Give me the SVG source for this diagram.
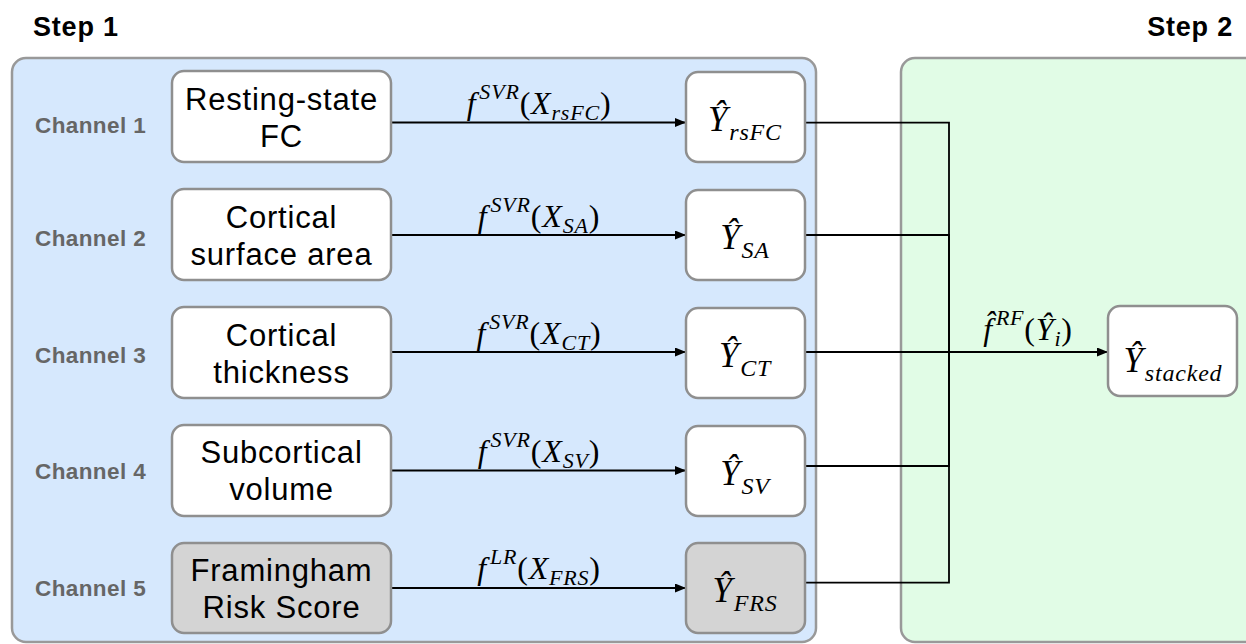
<svg xmlns="http://www.w3.org/2000/svg" width="1246" height="644" viewBox="0 0 1246 644">
<defs>
<style>
.panel{stroke:#999;stroke-width:2.5}
.p1{fill:#d6e8fd}
.p2{fill:#e1fce6}
.box{fill:#fff;stroke:#8f8f8f;stroke-width:2.5}
.gray{fill:#d4d4d4}
.lbl{font-family:"Liberation Sans",Arial,sans-serif;font-size:31px;letter-spacing:0.8px;text-anchor:middle;fill:#000}
.ch{font-family:"Liberation Sans",Arial,sans-serif;font-size:22.5px;font-weight:bold;letter-spacing:0.4px;fill:#666}
.step{font-family:"Liberation Sans",Arial,sans-serif;font-size:27px;font-weight:bold;letter-spacing:0.8px;fill:#000}
.m{font-family:"Liberation Serif","Times New Roman",serif;font-style:italic;font-size:32px;letter-spacing:0.8px;text-anchor:middle;fill:#000}
.mo{font-size:35px}
.sm{font-size:22px}
.so{font-size:24px}
.up{font-style:normal}
.wire{stroke:#000;stroke-width:1.8;fill:none}
</style>
<marker id="arr" markerUnits="userSpaceOnUse" markerWidth="11" markerHeight="9" refX="11" refY="4.5" orient="auto">
<path d="M0,0 L11,4.5 L0,9 z" fill="#000"/>
</marker>
</defs>

<text class="step" x="33" y="36">Step 1</text>
<text class="step" x="1233" y="35.5" text-anchor="end">Step 2</text>

<rect id="panel-step1" class="panel p1" x="12" y="58" width="804" height="584" rx="14"/>
<rect id="panel-step2" class="panel p2" x="901" y="58" width="400" height="584" rx="14"/>

<g id="channel-labels">
<text class="ch" x="35" y="133">Channel 1</text>
<text class="ch" x="35" y="246">Channel 2</text>
<text class="ch" x="35" y="363">Channel 3</text>
<text class="ch" x="35" y="479">Channel 4</text>
<text class="ch" x="35" y="596">Channel 5</text>
</g>

<g id="connectors">
<line class="wire" x1="391" y1="122.5" x2="686" y2="122.5" marker-end="url(#arr)"/>
<line class="wire" x1="391" y1="235" x2="686" y2="235" marker-end="url(#arr)"/>
<line class="wire" x1="391" y1="352" x2="686" y2="352" marker-end="url(#arr)"/>
<line class="wire" x1="391" y1="470.5" x2="686" y2="470.5" marker-end="url(#arr)"/>
<line class="wire" x1="391" y1="588" x2="686" y2="588" marker-end="url(#arr)"/>
<path class="wire" d="M805,122.7 H949 V352"/>
<path class="wire" d="M805,235 H949 V352"/>
<path class="wire" d="M805,466 H949 V352"/>
<path class="wire" d="M805,582.7 H949 V352"/>
<line class="wire" x1="805" y1="352" x2="1108" y2="352" marker-end="url(#arr)"/>
<text class="m" x="539" y="114"><tspan>f</tspan><tspan class="sm" dy="-15" dx="3">SVR</tspan><tspan class="up" dy="15">(</tspan><tspan>X</tspan><tspan class="sm" dy="6">rsFC</tspan><tspan class="up" dy="-6">)</tspan></text>
<text class="m" x="539" y="226.5"><tspan>f</tspan><tspan class="sm" dy="-15" dx="3">SVR</tspan><tspan class="up" dy="15">(</tspan><tspan>X</tspan><tspan class="sm" dy="6">SA</tspan><tspan class="up" dy="-6">)</tspan></text>
<text class="m" x="539" y="343.5"><tspan>f</tspan><tspan class="sm" dy="-15" dx="3">SVR</tspan><tspan class="up" dy="15">(</tspan><tspan>X</tspan><tspan class="sm" dy="6">CT</tspan><tspan class="up" dy="-6">)</tspan></text>
<text class="m" x="539" y="461.5"><tspan>f</tspan><tspan class="sm" dy="-15" dx="3">SVR</tspan><tspan class="up" dy="15">(</tspan><tspan>X</tspan><tspan class="sm" dy="6">SV</tspan><tspan class="up" dy="-6">)</tspan></text>
<text class="m" x="539" y="579"><tspan>f</tspan><tspan class="sm" dy="-15" dx="3">LR</tspan><tspan class="up" dy="15">(</tspan><tspan>X</tspan><tspan class="sm" dy="6">FRS</tspan><tspan class="up" dy="-6">)</tspan></text>
<text class="m" x="1028" y="340"><tspan>f̂</tspan><tspan class="sm" dy="-15" dx="3">RF</tspan><tspan class="up" dy="15">(</tspan><tspan>Ŷ</tspan><tspan class="sm" dy="6">i</tspan><tspan class="up" dy="-6">)</tspan></text>
</g>

<g id="in-rsfc"><rect class="box" x="172" y="71" width="219" height="91" rx="12"/><text class="lbl" x="281.5" y="110">Resting-state</text><text class="lbl" x="281.5" y="147">FC</text></g>
<g id="in-sa"><rect class="box" x="172" y="189" width="219" height="91" rx="12"/><text class="lbl" x="281.5" y="228">Cortical</text><text class="lbl" x="281.5" y="265">surface area</text></g>
<g id="in-ct"><rect class="box" x="172" y="307" width="219" height="91" rx="12"/><text class="lbl" x="281.5" y="346">Cortical</text><text class="lbl" x="281.5" y="383">thickness</text></g>
<g id="in-sv"><rect class="box" x="172" y="425" width="219" height="91" rx="12"/><text class="lbl" x="281.5" y="463">Subcortical</text><text class="lbl" x="281.5" y="500">volume</text></g>
<g id="in-frs"><rect class="box gray" x="172" y="543" width="219" height="90" rx="12"/><text class="lbl" x="281.5" y="581">Framingham</text><text class="lbl" x="281.5" y="618">Risk Score</text></g>

<g id="out-rsfc"><rect class="box" x="686" y="72" width="119" height="90" rx="12"/><text class="m mo" x="745" y="131"><tspan>Ŷ</tspan><tspan class="so" dy="9" dx="1">rsFC</tspan></text></g>
<g id="out-sa"><rect class="box" x="686" y="190" width="119" height="90" rx="12"/><text class="m mo" x="745" y="249"><tspan>Ŷ</tspan><tspan class="so" dy="9" dx="1">SA</tspan></text></g>
<g id="out-ct"><rect class="box" x="686" y="308" width="119" height="90" rx="12"/><text class="m mo" x="745" y="367"><tspan>Ŷ</tspan><tspan class="so" dy="9" dx="1">CT</tspan></text></g>
<g id="out-sv"><rect class="box" x="686" y="426" width="119" height="90" rx="12"/><text class="m mo" x="745" y="485"><tspan>Ŷ</tspan><tspan class="so" dy="9" dx="1">SV</tspan></text></g>
<g id="out-frs"><rect class="box gray" x="686" y="543" width="119" height="90" rx="12"/><text class="m mo" x="745" y="602"><tspan>Ŷ</tspan><tspan class="so" dy="9" dx="1">FRS</tspan></text></g>

<g id="out-stacked"><rect class="box" x="1108" y="306" width="129" height="90" rx="12"/><text class="m mo" x="1173" y="372"><tspan>Ŷ</tspan><tspan class="so" dy="9" dx="1">stacked</tspan></text></g>
</svg>
